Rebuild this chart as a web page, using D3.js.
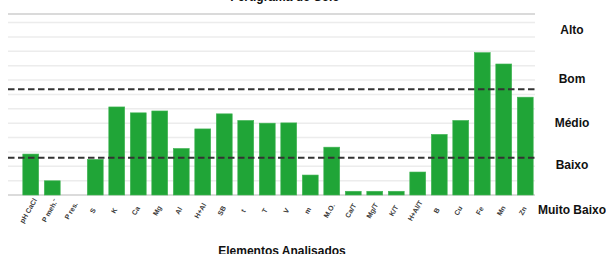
<!DOCTYPE html>
<html>
<head>
<meta charset="utf-8">
<script src="https://cdn.jsdelivr.net/npm/d3@7"></script>
<style>
  body { margin: 0; background: #fff; }
  svg { display: block; font-family: "Liberation Sans", Arial, sans-serif; }
</style>
</head>
<body>
<div id="chart"></div>
<script>
// elementos analisados e valor relativo
var elementos = ["pH CaCl", "P meh.\u207B", "P res.", "S", "K", "Ca", "Mg", "Al", "H+Al", "SB",
                 "t", "T", "V", "m", "M.O.", "Ca/T", "Mg/T", "K/T", "H+Al/T", "B", "Cu", "Fe", "Mn", "Zn"];
var valores = [28.5, 9.9, 0, 24.8, 61.3, 57.2, 58.5, 32.4, 46, 56.5,
               51.9, 50, 50.2, 13.9, 33.3, 2.6, 2.6, 2.6, 16, 42.2, 51.9, 99.1, 91.2, 68.1];

// faixas de interpretacao
var niveis = ["Alto", "Bom", "M\u00e9dio", "Baixo", "Muito Baixo"];
var niveisPos = [114, 80, 49.4, 20, -11];
var limites = [25.9, 73.6];
var grade = d3.range(0, 130, 10);

var width = 606,
    height = 254;

var svg = d3.select('#chart')
      .append('svg')
      .attr('width', width)
      .attr('height', height);

var x = d3.scaleBand()
      .domain(elementos)
      .range([20, 536])
      .paddingInner(0.26)
      .paddingOuter(0.13);

var y = d3.scaleLinear()
      .domain([0, 126])
      .range([195, 14]);

// grade horizontal
svg.selectAll('line.grade')
  .data(grade)
  .enter()
  .append('line')
  .attr('class', 'grade')
  .attr('x1', 8)
  .attr('x2', 535)
  .attr('y1', d => y(d))
  .attr('y2', d => y(d))
  .attr('stroke', d => d === 0 ? '#cfcfcf' : '#ececec')
  .attr('stroke-width', 1.5);

svg.append('line')
  .attr('x1', 8).attr('x2', 535)
  .attr('y1', y(126)).attr('y2', y(126))
  .attr('stroke', '#dadada')
  .attr('stroke-width', 2);

// barras
svg.selectAll('rect')
  .data(valores)
  .enter()
  .append('rect')
  .attr('x', (d, i) => x(elementos[i]))
  .attr('y', d => y(d))
  .attr('width', x.bandwidth())
  .attr('height', d => y(0) - y(d))
  .attr('fill', '#20a537')
  .attr('stroke', '#43b556')
  .attr('stroke-width', 0.6);

// linhas de limite
svg.selectAll('line.limite')
  .data(limites)
  .enter()
  .append('line')
  .attr('class', 'limite')
  .attr('x1', 8)
  .attr('x2', 535)
  .attr('y1', d => y(d))
  .attr('y2', d => y(d))
  .attr('stroke', '#333')
  .attr('stroke-width', 2)
  .attr('stroke-dasharray', '6.5,3.5');

// rotulos do eixo x
svg.selectAll('text.elem')
  .data(elementos)
  .enter()
  .append('text')
  .attr('class', 'elem')
  .attr('transform', d => 'translate(' + (x(d) + x.bandwidth() / 2 - 2) + ',211) rotate(-60)')
  .attr('text-anchor', 'middle')
  .attr('dominant-baseline', 'middle')
  .style('font-size', '7px')
  .style('font-weight', 'bold')
  .style('fill', '#3a3a3a')
  .text(d => d);

// niveis a direita
svg.selectAll('text.nivel')
  .data(niveis)
  .enter()
  .append('text')
  .attr('class', 'nivel')
  .attr('x', 572)
  .attr('y', (d, i) => y(niveisPos[i]))
  .attr('text-anchor', 'middle')
  .attr('dominant-baseline', 'middle')
  .style('font-size', '12px')
  .style('font-weight', 'bold')
  .style('fill', '#111')
  .text(d => d);

// titulos
svg.append('text')
  .attr('x', 285)
  .attr('y', 1)
  .attr('text-anchor', 'middle')
  .style('font-size', '12px')
  .style('font-weight', 'bold')
  .style('fill', '#111')
  .text('Fertigrama do Solo');

svg.append('text')
  .attr('x', 282)
  .attr('y', 255)
  .attr('text-anchor', 'middle')
  .style('font-size', '12px')
  .style('font-weight', 'bold')
  .style('fill', '#111')
  .text('Elementos Analisados');
</script>
</body>
</html>
